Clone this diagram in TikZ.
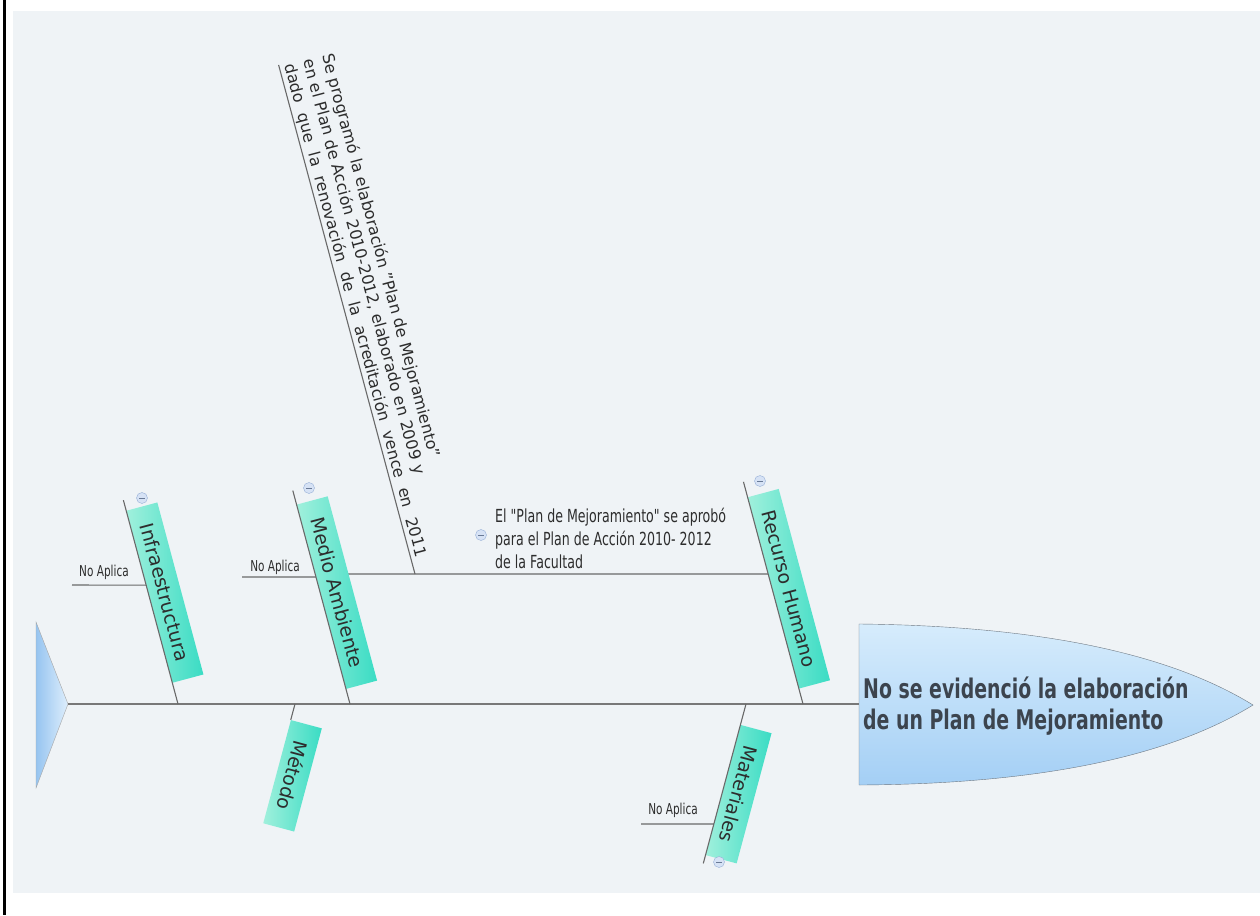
\documentclass[tikz,border=0pt]{standalone}
\usepackage{fontspec}
\setmainfont{DejaVu Sans}
\newfontfamily\narrowfont[FakeStretch=0.7]{DejaVu Sans}
\usepackage{tikz}
\usetikzlibrary{calc}

\definecolor{bgcol}{RGB}{239,243,246}
\definecolor{bonecol}{RGB}{105,105,105}
\definecolor{spinecol}{RGB}{120,120,120}
\definecolor{tealdark}{RGB}{58,220,196}
\definecolor{teallight}{RGB}{160,240,220}
\definecolor{tailblue}{RGB}{150,196,240}
\definecolor{tailpale}{RGB}{222,238,252}
\definecolor{headtop}{RGB}{214,236,252}
\definecolor{headbot}{RGB}{164,207,245}
\definecolor{headline}{RGB}{110,120,130}
\definecolor{headtxt}{RGB}{60,68,78}
\definecolor{txtcol}{RGB}{45,45,45}
\definecolor{iconfill}{RGB}{214,226,245}
\definecolor{iconline}{RGB}{150,175,215}

\tikzstyle{spine} = [draw=spinecol, line width=1.4pt]
\tikzstyle{bone} = [draw=bonecol, line width=1.1pt]
\tikzstyle{catbox} = [anchor=south, inner xsep=18pt, minimum height=32pt, left color=teallight, right color=tealdark, text=txtcol, font=\fontsize{19}{21}\selectfont]
\tikzstyle{noaplica} = [inner sep=1pt, text=txtcol, font=\narrowfont\fontsize{15}{17}\selectfont]
\tikzstyle{note} = [align=left, inner sep=1pt, text=txtcol, font=\narrowfont\fontsize{18}{23}\selectfont]
\tikzstyle{longnote} = [rotate=-75, anchor=south west, align=left, inner sep=2pt, text=txtcol, font=\fontsize{16}{19.5}\selectfont]
\tikzstyle{collapse} = [circle, draw=iconline, fill=iconfill, minimum size=11pt, inner sep=0pt,
  path picture={\draw[iconline!70!black, line width=0.8pt] ([xshift=-3pt]path picture bounding box.center) -- ([xshift=3pt]path picture bounding box.center);}]

\begin{document}
\begin{tikzpicture}[x=1pt,y=-1pt]
% Page and background
\useasboundingbox (0,0) rectangle (1260,915);
\fill[bgcol] (13,11) rectangle (1260,893);
\draw[line width=3pt] (4.5,0) -- (4.5,915);

% Tail
\coordinate (tail) at (68,704);
\draw[draw=gray!70, left color=tailblue, right color=tailpale] (36,622) -- (tail) -- (36,788) -- cycle;

% Head
\coordinate (head) at (859,704);
\draw[draw=headline, top color=headtop, bottom color=headbot] (859,624) .. controls (1060,626) and (1180,660) .. (1253,705)
  .. controls (1180,750) and (1060,784) .. (859,785) -- cycle;
\node[anchor=west, align=left, inner sep=0pt, text=headtxt, font=\narrowfont\bfseries\fontsize{27}{31}\selectfont] (effect) at (863,706)
  {No se evidenció la elaboración\\de un Plan de Mejoramiento};

% Spine
\draw[spine] (tail) -- (head);

% Junctions on the spine
\coordinate (infS) at (178,704);
\coordinate (medS) at (350,704);
\coordinate (recS) at (803,704);
\coordinate (metS) at (295,704);
\coordinate (matS) at (746,704);

% Bone ends (255 = up-left, 105 = down-left here)
\coordinate (infT) at ($(infS)+(255:211)$);
\coordinate (medT) at ($(medS)+(255:221)$);
\coordinate (recT) at ($(recS)+(255:230)$);
\coordinate (matT) at ($(matS)+(105:165)$);

% Sub-branches
\coordinate (infB) at ($(infS)+(255:123)$);
\coordinate (medB) at ($(medS)+(255:131.5)$);
\coordinate (recB) at ($(recS)+(255:134.6)$);
\coordinate (matB) at ($(matS)+(105:124.2)$);
\coordinate (infN) at (72,585);
\coordinate (medN) at (242,577);
\coordinate (matN) at (641,824);
\coordinate (planW) at (345,574);
\coordinate (planL) at (415,574);
\coordinate (progT) at ($(planL)+(255:527)$);

\draw[bone] (recB) -- (planW);
\draw[bone] (planL) -- (progT);
\draw[bone] (infN) -- (infB);
\draw[bone] (medN) -- (medB);
\draw[bone] (matN) -- (matB);

% Category boxes
\node[catbox, rotate=-75] (infra) at ($(infS)+(255:111)$) {Infraestructura};
\node[catbox, rotate=-75] (medio) at ($(medS)+(255:111)$) {Medio Ambiente};
\node[catbox, rotate=-75] (recurso) at ($(recS)+(255:115)$) {Recurso Humano};
\node[catbox, rotate=-105] (metodo) at ($(metS)+(105:70)$) {Método};
\node[catbox, rotate=-105] (mater) at ($(matS)+(105:89)$) {Materiales};

% Bones
\draw[bone] (infS) -- (infT);
\draw[bone] (medS) -- (medT);
\draw[bone] (recS) -- (recT);
\draw[bone] (metS) -- (metodo.south west);
\draw[bone] (matS) -- (matT);

% Collapse buttons
\node[collapse] (infc) at (142,498) {};
\node[collapse] (medc) at (309,488) {};
\node[collapse] (recc) at (760,481) {};
\node[collapse] (planc) at (481,535) {};
\node[collapse] (matc) at (719,862) {};

% Texts
\node[noaplica] (infna) at (104,572) {No Aplica};
\node[noaplica] (medna) at (275,567) {No Aplica};
\node[noaplica] (matna) at (673,810) {No Aplica};
\node[note, anchor=west] (plan) at (494,538)
  {El "Plan de Mejoramiento" se aprobó\\para el Plan de Acción 2010- 2012\\de la Facultad};
\node[longnote] (prog) at (progT)
  {Se programó la elaboración "Plan de Mejoramiento”\\en el Plan de Acción 2010-2012, elaborado en 2009 y\\\makebox[510pt][s]{dado que la renovación de la acreditación vence en 2011}};
\end{tikzpicture}
\end{document}
